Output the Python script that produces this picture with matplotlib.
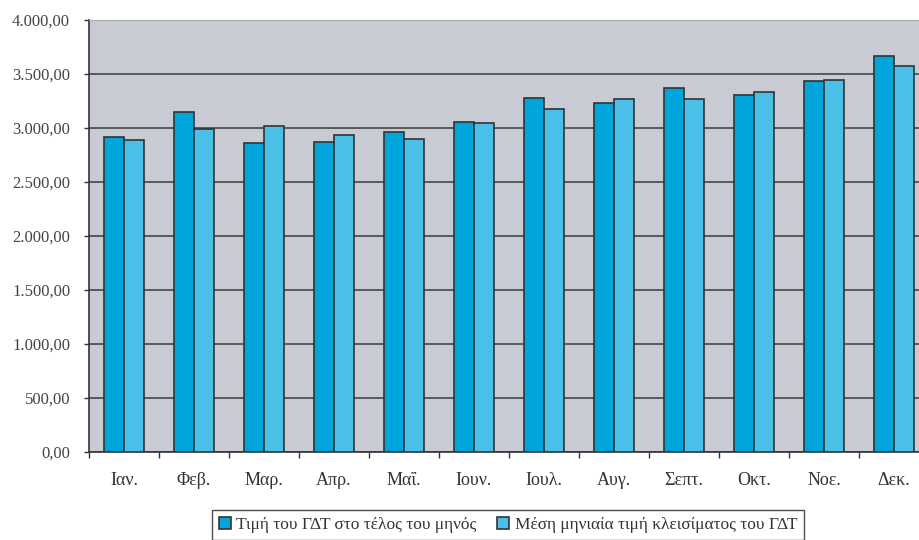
import matplotlib
matplotlib.use("Agg")
import matplotlib.pyplot as plt
import numpy as np
from matplotlib.ticker import FuncFormatter

months = ["Ιαν.", "Φεβ.", "Μαρ.", "Απρ.", "Μαΐ.", "Ιουν.", "Ιουλ.", "Αυγ.", "Σεπτ.", "Οκτ.", "Νοε.", "Δεκ."]
end_of_month = [2909, 3141, 2854, 2866, 2955, 3054, 3270, 3230, 3369, 3298, 3428, 3662]
monthly_avg = [2881, 2990, 3014, 2928, 2894, 3039, 3168, 3267, 3267, 3326, 3440, 3572]
series_names = ["Τιμή του ΓΔΤ στο τέλος του μηνός", "Μέση μηνιαία τιμή κλεισίματος του ΓΔΤ"]
yticks = [0, 500, 1000, 1500, 2000, 2500, 3000, 3500, 4000]

plt.rcParams['font.family'] = ['Liberation Serif', 'DejaVu Serif']

fig = plt.figure(figsize=(9.19, 5.40), dpi=100)
ax = fig.add_axes([89/919, (540-451.5)/540, 840/919, 432/540])
ax.set_facecolor('#C8CBD3')

x = np.arange(len(months))
w = 0.29
c1 = '#00A6DB'
c2 = '#4ABFE8'
ec = '#333333'
ax.bar(x - w/2, end_of_month, w, color=c1, edgecolor=ec, linewidth=1.2, label=series_names[0], zorder=3)
ax.bar(x + w/2, monthly_avg, w, color=c2, edgecolor=ec, linewidth=1.2, label=series_names[1], zorder=3)

ax.set_xlim(-0.5, len(months) - 0.5)
ax.set_ylim(0, 4000)
ax.set_yticks(yticks)

def fmt(v, pos):
    s = f"{v:,.2f}"
    return s.replace(",", "X").replace(".", ",").replace("X", ".")
ax.yaxis.set_major_formatter(FuncFormatter(fmt))
ax.yaxis.grid(True, color='#3a3a3a', linewidth=1.1, zorder=1)
ax.set_axisbelow(True)

ax.set_xticks(np.arange(len(months) + 1) - 0.5)
ax.set_xticklabels([])
ax.set_xticks(x, minor=True)
ax.set_xticklabels(months, minor=True)
ax.tick_params(axis='x', which='minor', length=0, pad=15, labelsize=13, colors='#333333')
ax.tick_params(axis='x', which='major', length=4, width=1, color='#333333')
ax.tick_params(axis='y', length=3.6, width=1, color='#333333', labelsize=12, labelcolor='#444444', pad=10)

for s in ['left', 'bottom']:
    ax.spines[s].set_color('#333333')
    ax.spines[s].set_linewidth(1.2)
ax.spines['top'].set_color('#AAAAAA')
ax.spines['right'].set_visible(False)

leg = fig.legend(loc='upper center', bbox_to_anchor=(508/919, (540-510)/540), ncol=2,
                 frameon=True, fancybox=False, edgecolor='#222222', fontsize=12.5,
                 handlelength=0.7, handleheight=0.7, handletextpad=0.3, columnspacing=1.2,
                 borderpad=0.4, borderaxespad=0)
leg.get_frame().set_linewidth(1.0)
for t in leg.get_texts():
    t.set_color('#333333')

fig.savefig('out.png', dpi=100)
